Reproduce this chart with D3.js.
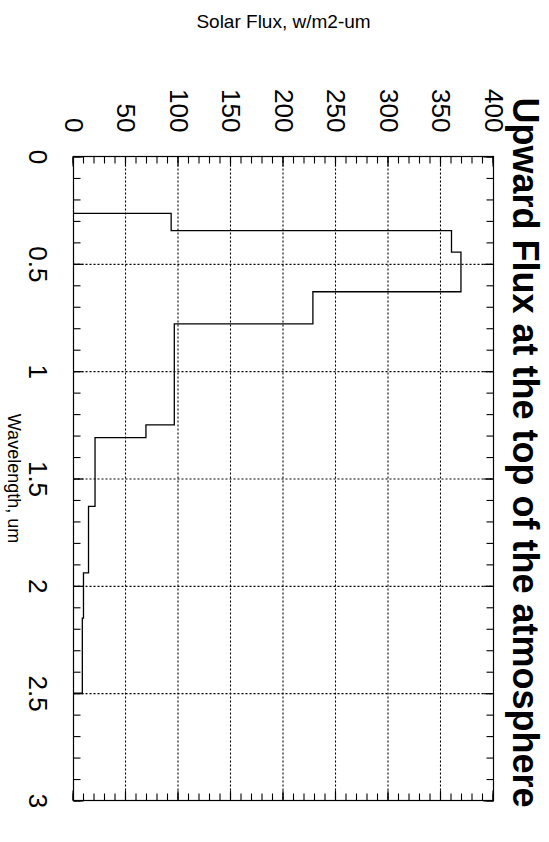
<!DOCTYPE html>
<html>
<head>
<meta charset="utf-8">
<script src="https://cdn.jsdelivr.net/npm/d3@7"></script>
<style>
  body { margin: 0; background: #fff; }
  text { font-family: "Liberation Sans", Arial, Helvetica, sans-serif; fill: #000; }
</style>
</head>
<body>
<script>
// Spectral band edges (um) and the upward flux in each band (W/m2-um)
const bandEdges = [0.265, 0.345, 0.445, 0.63, 0.78, 1.25, 1.31, 1.63, 1.94, 2.15, 2.5];
const bandFlux  = [93, 360, 369, 228, 96, 69, 20.5, 14.3, 9.5, 8.4];

const wavelengthTicks = [0, 0.5, 1, 1.5, 2, 2.5, 3];
const wavelengthTickLabels = ["0", "0.5", "1", "1.5", "2", "2.5", "3"];
const wavelengthMinor = d3.range(0, 31).map(i => i / 10);
const fluxTicks = [0, 50, 100, 150, 200, 250, 300, 350, 400];
const fluxTickLabels = ["0", "50", "100", "150", "200", "250", "300", "350", "400"];
const fluxMinor = d3.range(0, 41).map(i => i * 10);

const titleText = "Upward Flux at the top of the atmosphere";
const wavelengthTitle = "Wavelength, um";
const fluxTitle = "Solar Flux, w/m2-um";

const W = 644, H = 420;          // plot length along wavelength / flux
const originX = 493.5, originY = 156.5;

const svg = d3.select("body").append("svg")
  .attr("width", 549).attr("height", 842);

// The plot is laid out as an ordinary x/y chart, then turned a quarter turn clockwise
const g = svg.append("g")
  .attr("transform", `translate(${originX},${originY}) rotate(90)`);

const x = d3.scaleLinear().domain([0, 3]).range([0, W]);
const y = d3.scaleLinear().domain([0, 400]).range([H, 0]);

// dotted grid at the interior major ticks
const gridX = g.append("g").attr("transform", `translate(0,${H})`)
  .call(d3.axisBottom(x).tickValues(wavelengthTicks.slice(1, -1)).tickSize(-H).tickFormat(""));
const gridY = g.append("g")
  .call(d3.axisLeft(y).tickValues(fluxTicks.slice(1, -1)).tickSize(-W).tickFormat(""));
[gridX, gridY].forEach(a => {
  a.select(".domain").remove();
  a.selectAll("line").attr("stroke", "#000").attr("stroke-width", 1.1).attr("stroke-dasharray", "2,2");
});

// inward tick marks on all four sides
function ticks(axis, tx, ty) {
  const a = g.append("g").attr("transform", `translate(${tx},${ty})`).call(axis);
  a.select(".domain").remove();
  a.selectAll("line").attr("stroke", "#000").attr("stroke-width", 1.1);
}
const minorLen = 7, majorLen = 10;
ticks(d3.axisBottom(x).tickValues(wavelengthMinor).tickSize(-minorLen).tickFormat(""), 0, H);
ticks(d3.axisTop(x).tickValues(wavelengthMinor).tickSize(-minorLen).tickFormat(""), 0, 0);
ticks(d3.axisBottom(x).tickValues(wavelengthTicks).tickSize(-majorLen).tickFormat(""), 0, H);
ticks(d3.axisTop(x).tickValues(wavelengthTicks).tickSize(-majorLen).tickFormat(""), 0, 0);
ticks(d3.axisLeft(y).tickValues(fluxMinor).tickSize(-minorLen).tickFormat(""), 0, 0);
ticks(d3.axisRight(y).tickValues(fluxMinor).tickSize(-minorLen).tickFormat(""), W, 0);
ticks(d3.axisLeft(y).tickValues(fluxTicks).tickSize(-majorLen).tickFormat(""), 0, 0);
ticks(d3.axisRight(y).tickValues(fluxTicks).tickSize(-majorLen).tickFormat(""), W, 0);

// tick labels
const xLab = g.append("g").attr("transform", `translate(0,${H})`)
  .call(d3.axisBottom(x).tickValues(wavelengthTicks).tickSize(0).tickPadding(26)
    .tickFormat((d, i) => wavelengthTickLabels[i]));
const yLab = g.append("g")
  .call(d3.axisLeft(y).tickValues(fluxTicks).tickSize(0).tickPadding(24)
    .tickFormat((d, i) => fluxTickLabels[i]));
[xLab, yLab].forEach(a => {
  a.select(".domain").remove();
  a.selectAll("text").attr("font-size", 26).attr("font-family", null).attr("fill", "#000");
});

// frame
g.append("rect").attr("x", 0).attr("y", 0).attr("width", W).attr("height", H)
  .attr("fill", "none").attr("stroke", "#000").attr("stroke-width", 1.2);

// upward flux as a step curve across the bands
const pts = [[bandEdges[0], 0]]
  .concat(bandFlux.map((v, i) => [bandEdges[i], v]))
  .concat([[bandEdges[bandEdges.length - 1], 0]]);
g.append("path")
  .datum(pts)
  .attr("fill", "none").attr("stroke", "#000").attr("stroke-width", 1.3)
  .attr("d", d3.line().x(d => x(d[0])).y(d => y(d[1])).curve(d3.curveStepAfter));

// titles
g.append("text")
  .attr("x", W / 2).attr("y", 486)
  .attr("text-anchor", "middle").attr("font-size", 18)
  .text(wavelengthTitle);
g.append("text")
  .attr("transform", `translate(${-129},${H / 2}) rotate(-90)`)
  .attr("text-anchor", "middle").attr("font-size", 19)
  .text(fluxTitle);
g.append("text")
  .attr("x", -59).attr("y", -19)
  .attr("text-anchor", "start").attr("font-size", 36).attr("font-weight", "bold")
  .text(titleText);
</script>
</body>
</html>
